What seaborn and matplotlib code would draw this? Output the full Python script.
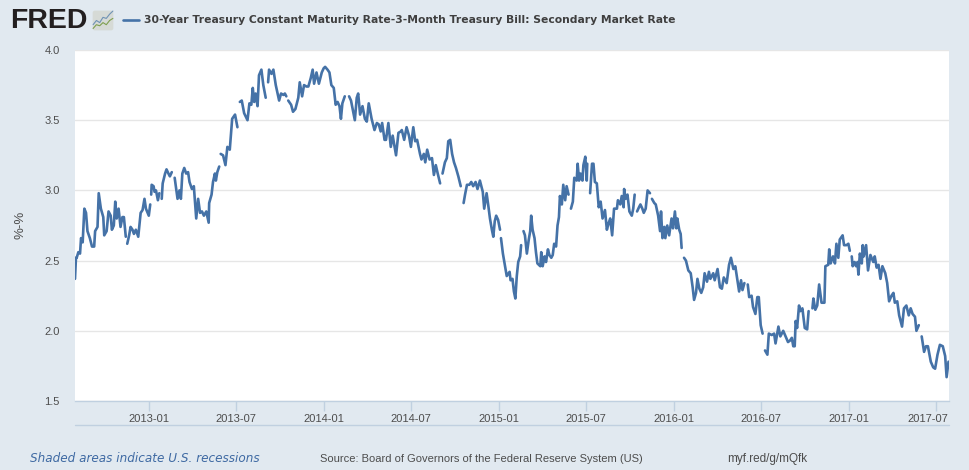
import numpy as np
import pandas as pd
import matplotlib
matplotlib.use("Agg")
import matplotlib.pyplot as plt
import seaborn as sns
from matplotlib.lines import Line2D
from matplotlib.patches import FancyBboxPatch
from matplotlib.transforms import ScaledTranslation

# days after the first observation, None marks a missing observation (gap in the line)
start_date = "2012-07-30"
end_date = "2017-07-28"
days = [0, 2, 3.5, 7, 10.5, 12.6, 16, 19.5, 23, 26, 31, 35.5, 40, 42, 47, 49.5, 54, 59, 61, 66, 70, 74.5, 77, 81, 84, 87, 91, 95, 99, 102, 106,
        107, 109, 113, 116, 120, 123, 127, 132, 137, 141, 145, 148, 154, 157,
        158, 159, 160, 164, 166, 169, 173, 176,
        178, 181, 183, 188, 191, 195, 198, 202,
        205, 208, 214, 218, 221, 224, 228, 232, 236, 239, 244, 248, 253, 257, 261, 265, 269, 274, 279, 280, 285, 288, 292, 294, 297, 301,
        302, 304, 309, 314, 318, 323, 328, 334, 339,
        341, 344, 348, 353, 360, 364, 368, 371, 374, 377, 381, 384, 389, 393, 398,
        400, 403, 405, 410, 414, 419, 426, 430, 435, 438, 441,
        443, 445, 451, 455, 460, 466, 469, 474, 478, 483, 487, 492, 496, 499, 504, 509, 515, 519, 522, 527, 531, 535, 540, 544, 548, 552, 555, 558, 563,
        567, 572, 576, 584, 588, 591, 595, 600, 605, 609, 613, 619, 625, 630, 634, 638, 641, 646, 649, 654, 659, 663, 670, 675, 680, 682, 687, 692, 697, 701, 706, 710, 714, 720, 723, 728, 731, 735, 740, 745, 749, 753, 757, 762,
        764, 767, 772, 776, 779, 783, 787, 791, 795, 800, 805,
        808, 811, 814, 818, 823, 827, 831, 836, 840, 845, 851, 854, 859, 863, 866, 870, 873, 876, 879, 883, 887,
        888, 889, 893, 896, 901, 907, 909, 913, 916, 919, 922, 925, 929, 931,
        933, 936, 939, 943, 947, 950, 952, 955, 959, 962, 965, 971, 973, 976, 980, 983, 987, 990, 994, 997, 1000, 1004, 1007, 1010, 1012, 1016, 1019, 1023, 1026, 1030,
        1032, 1035, 1039, 1042, 1047, 1049, 1052, 1055, 1059, 1061, 1065, 1068, 1069,
        1072, 1075, 1079, 1082, 1085, 1089, 1093, 1097, 1101, 1106, 1110, 1114, 1117, 1121, 1125, 1131, 1133, 1138, 1141, 1145, 1146, 1149, 1153, 1157, 1162, 1165, 1168,
        1170, 1173, 1177, 1180, 1184, 1187, 1191, 1195, 1200,
        1202, 1204, 1209, 1212, 1217, 1221, 1223, 1226, 1230, 1232, 1236, 1240, 1245, 1248, 1252, 1255, 1257, 1261, 1264, 1266,
        1268, 1271, 1275, 1280, 1285, 1289, 1292, 1296, 1299, 1303, 1307, 1311, 1314, 1319, 1323, 1326, 1332, 1335, 1341, 1346, 1350, 1354, 1360, 1365, 1369, 1374, 1378, 1382, 1386, 1390, 1393, 1397,
        1400, 1404, 1407, 1412, 1415, 1420, 1424, 1427, 1431, 1435,
        1437, 1440, 1445, 1448, 1454, 1459, 1462, 1468, 1472, 1478, 1483, 1488, 1492, 1496, 1499, 1502, 1504, 1507, 1511, 1514, 1518, 1523, 1528, 1531,
        1535, 1539, 1541, 1545, 1549, 1553, 1558, 1564, 1566, 1572, 1574, 1577, 1582, 1586, 1589, 1593, 1596, 1602, 1605, 1610, 1614, 1617,
        1619, 1621, 1623, 1627, 1630, 1633, 1635, 1638, 1642, 1644, 1646, 1651, 1655, 1660, 1666, 1669, 1673, 1677, 1681, 1685, 1691, 1695, 1699, 1704, 1708, 1711, 1716, 1720, 1726, 1730, 1735, 1740, 1744, 1748, 1753, 1756, 1761,
        1764, 1767, 1772, 1776, 1780, 1786, 1791, 1795, 1800, 1805, 1811, 1816, 1819, 1823]
rates = [2.37, 2.52, 2.52, 2.56, 2.55, 2.66, 2.63, 2.87, 2.84, 2.71, 2.66, 2.60, 2.60, 2.71, 2.74, 2.98, 2.87, 2.81, 2.68, 2.71, 2.85, 2.82, 2.72, 2.75, 2.92, 2.80, 2.87, 2.74, 2.81, 2.81, 2.67,
         None, 2.62, 2.68, 2.74, 2.72, 2.69, 2.72, 2.67, 2.84, 2.86, 2.94, 2.87, 2.82, 2.90,
         None, 2.97, 3.04, 3.03, 2.99, 3.00, 2.93, 2.98,
         None, 2.94, 3.05, 3.12, 3.15, 3.12, 3.10, 3.13,
         None, 3.09, 2.94, 3.00, 2.94, 3.12, 3.16, 3.12, 3.13, 3.06, 3.01, 3.03, 2.80, 2.94, 2.84, 2.85, 2.82, 2.85, 2.77, 2.91, 2.97, 3.06, 3.12, 3.07, 3.13, 3.17,
         None, 3.26, 3.25, 3.18, 3.31, 3.29, 3.51, 3.54, 3.45,
         None, 3.63, 3.64, 3.55, 3.50, 3.62, 3.61, 3.73, 3.63, 3.69, 3.60, 3.82, 3.86, 3.75, 3.66,
         None, 3.77, 3.86, 3.83, 3.86, 3.75, 3.64, 3.69, 3.68, 3.69, 3.67,
         None, 3.64, 3.61, 3.56, 3.58, 3.66, 3.77, 3.67, 3.75, 3.74, 3.74, 3.80, 3.86, 3.76, 3.84, 3.76, 3.84, 3.87, 3.88, 3.86, 3.84, 3.75, 3.73, 3.61, 3.63, 3.60, 3.51, 3.62, 3.67,
         None, 3.67, 3.64, 3.50, 3.66, 3.69, 3.54, 3.60, 3.51, 3.49, 3.62, 3.51, 3.43, 3.48, 3.47, 3.42, 3.48, 3.36, 3.36, 3.48, 3.31, 3.39, 3.25, 3.41, 3.42, 3.43, 3.36, 3.45, 3.39, 3.31, 3.45, 3.35, 3.36, 3.26, 3.22, 3.26, 3.20, 3.29, 3.22, 3.23, 3.11, 3.18, 3.12, 3.05,
         None, 3.12, 3.20, 3.23, 3.35, 3.36, 3.26, 3.20, 3.16, 3.10, 3.03,
         None, 2.91, 2.97, 3.04, 3.04, 3.06, 3.03, 3.06, 3.01, 3.07, 2.99, 2.87, 2.98, 2.88, 2.80, 2.72, 2.67, 2.78, 2.82, 2.79, 2.72,
         None, 2.66, 2.55, 2.49, 2.39, 2.42, 2.36, 2.37, 2.28, 2.23, 2.39, 2.49, 2.53, 2.61,
         None, 2.71, 2.68, 2.55, 2.65, 2.71, 2.82, 2.72, 2.66, 2.56, 2.48, 2.46, 2.56, 2.46, 2.53, 2.49, 2.58, 2.54, 2.52, 2.54, 2.62, 2.60, 2.75, 2.81, 2.96, 2.90, 3.04, 2.93, 3.03, 2.97,
         None, 2.87, 2.92, 3.09, 3.07, 3.19, 3.07, 3.12, 3.07, 3.18, 3.24, 3.07, 3.19,
         None, 2.98, 3.19, 3.19, 3.06, 3.05, 2.88, 2.92, 2.80, 2.86, 2.72, 2.77, 2.80, 2.68, 2.87, 2.87, 2.93, 2.90, 2.96, 2.88, 3.01, 2.94, 2.97, 2.85, 2.82, 2.87, 2.97,
         None, 2.85, 2.88, 2.90, 2.87, 2.84, 2.87, 3.00, 2.98,
         None, 2.94, 2.91, 2.90, 2.82, 2.71, 2.85, 2.66, 2.74, 2.66, 2.75, 2.68, 2.80, 2.73, 2.85, 2.73, 2.80, 2.72, 2.69, 2.59,
         None, 2.52, 2.50, 2.43, 2.41, 2.31, 2.22, 2.27, 2.37, 2.30, 2.27, 2.31, 2.41, 2.35, 2.42, 2.37, 2.41, 2.36, 2.44, 2.31, 2.30, 2.38, 2.34, 2.47, 2.52, 2.44, 2.46, 2.37, 2.28, 2.36, 2.29, 2.34,
         None, 2.33, 2.24, 2.25, 2.17, 2.12, 2.24, 2.24, 2.04, 1.98,
         None, 1.86, 1.83, 1.98, 1.97, 1.98, 1.91, 2.03, 1.96, 2.00, 1.96, 1.92, 1.93, 1.95, 1.89, 1.89, 2.07, 2.02, 2.18, 2.14, 2.16, 2.02, 2.01, 2.14,
         None, 2.16, 2.23, 2.15, 2.18, 2.33, 2.20, 2.20, 2.46, 2.47, 2.58, 2.48, 2.53, 2.48, 2.62, 2.52, 2.65, 2.68, 2.61, 2.61, 2.62, 2.57,
         None, 2.53, 2.46, 2.49, 2.46, 2.49, 2.40, 2.55, 2.48, 2.61, 2.53, 2.61, 2.43, 2.54, 2.49, 2.53, 2.45, 2.47, 2.37, 2.46, 2.41, 2.34, 2.21, 2.25, 2.27, 2.20, 2.21, 2.11, 2.03, 2.16, 2.18, 2.11, 2.16, 2.12, 2.10, 2.00, 2.04,
         None, 1.96, 1.85, 1.89, 1.89, 1.78, 1.74, 1.73, 1.83, 1.90, 1.89, 1.82, 1.67, 1.78]
tick_dates = ["2013-01-01", "2013-07-01", "2014-01-01", "2014-07-01", "2015-01-01", "2015-07-01", "2016-01-01", "2016-07-01", "2017-01-01", "2017-07-01"]
tick_labels = ["2013-01", "2013-07", "2014-01", "2014-07", "2015-01", "2015-07", "2016-01", "2016-07", "2017-01", "2017-07"]
y_ticks = [1.5, 2.0, 2.5, 3.0, 3.5, 4.0]

bg = "#e1e9f0"
line_color = "#4572a7"
axis_color = "#c0d0e0"
text_color = "#4d4d4d"

W, H = 969, 470
sns.set_theme(style="white")
plt.rcParams["font.family"] = ["Liberation Sans", "DejaVu Sans"]

df = pd.DataFrame({"day": days, "rate": rates})
df["date"] = pd.Timestamp(start_date) + pd.to_timedelta(df["day"], unit="D")
df["segment"] = df["rate"].isna().cumsum()
df["rate"] = df["rate"].astype(float)

fig = plt.figure(figsize=(W / 100, H / 100), dpi=100, facecolor=bg)
ax = fig.add_axes([75 / W, 1 - 401 / H, 874 / W, 351 / H], facecolor="white")

sns.lineplot(data=df.dropna(subset=["rate"]), x="date", y="rate", units="segment", estimator=None,
             color=line_color, linewidth=1.9, ax=ax, zorder=3)

ax.set_xlim(pd.Timestamp(start_date), pd.Timestamp(end_date))
ax.set_ylim(1.5, 4.0)
ax.set_yticks(y_ticks)
ax.set_yticklabels([f"{v:.1f}" for v in y_ticks])
ax.set_xticks(pd.to_datetime(tick_dates))
ax.set_xticklabels(tick_labels)
ax.set_xlabel("")
ax.set_ylabel("")
ax.grid(axis="y", color="#e6e6e6", linewidth=1)
ax.set_axisbelow(True)
for side in ["top", "left", "right"]:
    ax.spines[side].set_visible(False)
ax.spines["bottom"].set_color(axis_color)
ax.spines["bottom"].set_linewidth(1)
ax.tick_params(axis="x", length=7, width=1, color=axis_color, labelsize=8, labelcolor=text_color, pad=2, bottom=True)
ax.tick_params(axis="y", length=0, labelsize=8, labelcolor=text_color, pad=11)

# the last date label is pushed left to stay inside the plot
last = ax.get_xticklabels()[-1]
last.set_transform(last.get_transform() + ScaledTranslation(-8 / 100, 0, fig.dpi_scale_trans))

# line under the date labels
fig.add_artist(Line2D([75 / W, 949 / W], [1 - 425 / H, 1 - 425 / H], color=axis_color, linewidth=1))

fig.text(20 / W, 1 - 225 / H, "%-%", rotation=90, ha="center", va="center", fontsize=9.5, color=text_color)

# header
fig.text(10 / W, 1 - 21 / H, "FRED", fontsize=20.5, fontweight="bold", color="#231f20", ha="left", va="center")
icon = fig.add_axes([92 / W, 1 - 31 / H, 22 / W, 21 / H])
icon.axis("off")
icon.set_xlim(0, 1)
icon.set_ylim(0, 1)
icon.add_patch(FancyBboxPatch((0.03, 0.03), 0.94, 0.94, boxstyle="round,pad=0,rounding_size=0.1", facecolor="#d6dad6", edgecolor="none"))
icon.plot([0.05, 0.2, 0.35, 0.5, 0.65, 0.8, 0.95], [0.3, 0.5, 0.4, 0.65, 0.6, 0.8, 0.95], color="#6f92b5", linewidth=0.8)
icon.plot([0.05, 0.2, 0.35, 0.5, 0.65, 0.8, 0.95], [0.12, 0.3, 0.25, 0.4, 0.3, 0.5, 0.6], color="#7f9f4f", linewidth=0.8)
fig.add_artist(Line2D([123 / W, 139 / W], [1 - 20 / H, 1 - 20 / H], color=line_color, linewidth=1.9))
fig.text(144 / W, 1 - 20 / H, "30-Year Treasury Constant Maturity Rate-3-Month Treasury Bill: Secondary Market Rate",
         fontsize=7.75, fontweight="bold", family="DejaVu Sans", color="#3f3f3f", ha="left", va="center")

# footer
fig.text(30 / W, 1 - 459 / H, "Shaded areas indicate U.S. recessions", fontsize=8.65, style="italic", family="DejaVu Sans",
         color="#3f6aa3", ha="left", va="center")
fig.text(320 / W, 1 - 459 / H, "Source: Board of Governors of the Federal Reserve System (US)", fontsize=8, color=text_color, ha="left", va="center")
fig.text(727 / W, 1 - 459 / H, "myf.red/g/mQfk", fontsize=8.5, color=text_color, ha="left", va="center")

fig.savefig("out.png", dpi=100, facecolor=bg)
